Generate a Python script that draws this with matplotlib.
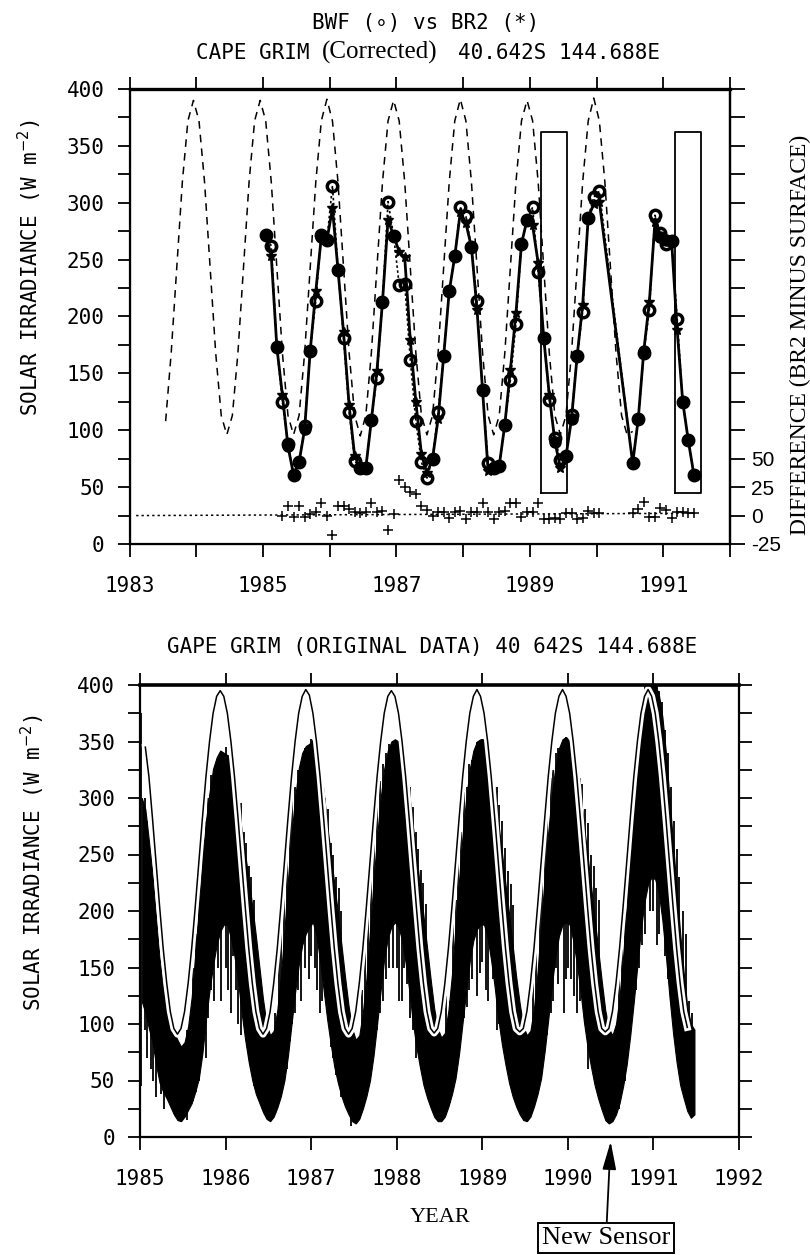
import numpy as np
import matplotlib
matplotlib.use("Agg")
import matplotlib.pyplot as plt
import matplotlib.patheffects as pe

MONO = ['DejaVu Sans Mono', 'DejaVu Sans']
SERIF = 'Liberation Serif'
SANS = 'Liberation Sans'
nan = np.nan

# ---------------- top panel: monthly means Jan 1985 .. Jun 1991 ----------------
bwf = [272, 262, 173, 125, 88, 61, 72, 104, 170, 214, 272, 267,
       315, 241, 181, 116, 73, 67, 67, 109, 146, 213, 301, 271,
       228, 229, 162, 108, 72, 58, 75, 116, 165, 222, 253, 296,
       288, 261, 214, 135, 71, 67, 69, 105, 144, 193, 264, 285,
       296, 239, 181, 127, 93, 74, 77, 113, 165, 204, 287, 305,
       310, nan, nan, nan, nan, nan, 71, 110, 168, 206, 289, 273,
       264, 266, 198, 125, 91, 61]
br2 = [272, 253, 173, 131, 86, 61, 72, 101, 170, 222, 270, 267,
       295, 241, 186, 122, 77, 67, 67, 109, 152, 213, 285, 271,
       257, 252, 179, 125, 79, 62, 75, 110, 165, 222, 253, 292,
       282, 261, 206, 135, 64, 67, 69, 105, 153, 203, 264, 285,
       280, 247, 181, 131, 90, 67, 77, 110, 165, 210, 287, 299,
       301, nan, nan, nan, nan, nan, 71, 110, 170, 213, 283, 270,
       267, 266, 188, 125, 91, 61]
# BR2 minus surface (right axis)
diff = [nan, nan, nan, 0, 8, -1, 8, -1, 1, 3, 11, 0,
        -17, 8, 8, 6, 3, 2, 3, 11, 3, 4, -13, 1,
        31, 25, 21, 19, 8, 5, 0, 3, 3, -2, 3, 4,
        -3, 3, 3, 11, 3, -3, 3, 4, 11, 11, -1, 3,
        3, 11, -3, -3, -2, -3, 2, 2, -3, -2, 4, 2,
        2, nan, nan, nan, nan, nan, 2, 6, 12, -1, -1, 7,
        5, -2, 3, 3, 2, 2]
fit_x = [1983.1, 1991.5]
fit_y = [0, 2]

# clear-sky (dashed), monthly from Jul 1983 to Jul 1991
clear_top = [108, 168, 243, 318, 372, 390,
             372, 318, 243, 168, 113, 96, 113, 168, 243, 318, 372, 390,
             372, 318, 243, 168, 113, 96, 113, 168, 243, 318, 372, 391,
             372, 318, 243, 168, 113, 95, 113, 168, 243, 318, 372, 390,
             372, 318, 243, 168, 113, 96, 113, 168, 243, 318, 372, 391,
             372, 318, 243, 168, 113, 96, 113, 168, 243, 318, 372, 390,
             372, 318, 243, 168, 113, 96, 113, 168, 243, 318, 372, 392,
             372, 318, 243, 168, 113, 96, 99]

boxes_x = [(1989.16, 1989.55), (1991.17, 1991.56)]
box_y = (45, 362)

# ---------------- bottom panel: daily data envelopes (half-month steps) ----------------
daily_hi = [300, 290, 262, 232, 195, 158, 132, 112, 102, 94, 86, 80, 84, 98, 124, 162, 205, 248, 280, 305, 326, 336, 342, 340,
            338, 332, 316, 296, 272, 250, 228, 204, 178, 150, 122, 100, 90, 94, 112, 142, 182, 228, 268, 300, 326, 340, 346, 348,
            352, 345, 330, 306, 276, 250, 224, 198, 170, 142, 116, 96, 86, 90, 110, 140, 182, 226, 266, 300, 326, 342, 350, 352,
            350, 344, 328, 304, 276, 250, 222, 196, 168, 140, 114, 96, 88, 92, 112, 144, 186, 228, 268, 300, 326, 342, 350, 352,
            352, 346, 330, 306, 278, 252, 224, 198, 170, 142, 118, 98, 90, 94, 114, 146, 188, 230, 270, 302, 328, 344, 352, 354,
            350, 344, 328, 304, 276, 250, 222, 194, 166, 138, 112, 96, 90, 100, 124, 160, 205, 250, 292, 330, 360, 385, 398, 402,
            400, 392, 372, 340, 300, 260, 220, 180, 145, 115, 100, 95]
daily_lo = [120, 110, 96, 84, 64, 48, 40, 34, 27, 20, 15, 14, 18, 24, 30, 40, 52, 74, 104, 130, 152, 170, 182, 188,
            188, 176, 160, 138, 110, 86, 66, 50, 38, 30, 22, 16, 14, 18, 26, 36, 50, 72, 100, 128, 152, 170, 180, 186,
            190, 178, 156, 130, 104, 82, 62, 48, 36, 27, 20, 14, 12, 16, 25, 36, 50, 72, 100, 130, 158, 176, 186, 190,
            186, 174, 154, 130, 102, 80, 62, 46, 35, 26, 18, 14, 14, 18, 27, 38, 52, 74, 102, 130, 156, 174, 184, 188,
            188, 176, 156, 132, 104, 82, 64, 48, 36, 27, 20, 15, 14, 18, 27, 38, 52, 76, 104, 134, 160, 178, 188, 190,
            188, 174, 154, 130, 102, 80, 62, 46, 34, 24, 15, 12, 14, 20, 30, 45, 64, 90, 120, 152, 184, 208, 224, 230,
            228, 216, 192, 160, 124, 92, 66, 46, 34, 23, 17, 20]
spike_t = [1985.01, 1985.06, 1985.13, 1985.19, 1985.24, 1985.62, 1985.69, 1985.74, 1985.80, 1985.86, 1985.91,
           1985.08, 1985.15, 1985.28, 1985.55, 1985.66, 1985.77, 1985.83, 1985.95,
           1986.03, 1986.09, 1986.15, 1986.21, 1986.27, 1986.33, 1986.62, 1986.68, 1986.75, 1986.81, 1986.88, 1986.93,
           1986.00, 1986.06, 1986.12, 1986.18, 1986.24, 1986.30, 1986.58, 1986.65, 1986.72, 1986.78, 1986.85, 1986.97,
           1987.04, 1987.10, 1987.16, 1987.23, 1987.29, 1987.35, 1987.47, 1987.63, 1987.70, 1987.77, 1987.84, 1987.91,
           1987.00, 1987.07, 1987.13, 1987.20, 1987.26, 1987.32, 1987.60, 1987.67, 1987.74, 1987.81, 1987.88, 1987.96,
           1988.03, 1988.09, 1988.15, 1988.22, 1988.28, 1988.34, 1988.62, 1988.69, 1988.75, 1988.82, 1988.88, 1988.94,
           1988.00, 1988.06, 1988.12, 1988.19, 1988.25, 1988.31, 1988.58, 1988.66, 1988.72, 1988.79, 1988.85, 1988.97,
           1989.04, 1989.10, 1989.17, 1989.23, 1989.30, 1989.36, 1989.63, 1989.70, 1989.76, 1989.83, 1989.89, 1989.95,
           1989.00, 1989.07, 1989.13, 1989.20, 1989.27, 1989.33, 1989.59, 1989.67, 1989.73, 1989.80, 1989.86, 1989.98,
           1990.04, 1990.11, 1990.17, 1990.24, 1990.30, 1990.36, 1990.47, 1990.63, 1990.70, 1990.76, 1990.83, 1990.90,
           1990.00, 1990.07, 1990.14, 1990.20, 1990.27, 1990.33, 1990.60, 1990.67, 1990.73, 1990.80, 1990.87, 1990.96,
           1991.04, 1991.10, 1991.17, 1991.24, 1991.30, 1991.38, 1991.45,
           1991.00, 1991.07, 1991.14, 1991.20, 1991.27, 1991.34, 1991.42]
spike_lo = [45, 95, 60, 35, 38, 32, 50, 90, 105, 120, 150,
            70, 50, 25, 15, 40, 70, 130, 120,
            130, 160, 100, 140, 70, 45, 30, 50, 85, 110, 120, 150,
            150, 110, 130, 90, 100, 60, 20, 35, 60, 100, 130, 140,
            150, 110, 150, 80, 55, 35, 10, 45, 65, 95, 120, 150,
            160, 130, 120, 110, 70, 50, 30, 50, 80, 110, 140, 150,
            120, 150, 105, 70, 60, 40, 30, 55, 100, 115, 140, 125,
            150, 120, 135, 95, 85, 55, 25, 45, 75, 105, 130, 145,
            130, 170, 95, 120, 60, 45, 35, 60, 90, 120, 135, 110,
            155, 120, 140, 100, 75, 50, 28, 50, 80, 110, 150, 140,
            140, 110, 150, 60, 70, 40, 12, 50, 90, 130, 150, 180,
            150, 125, 120, 100, 80, 55, 25, 50, 90, 130, 170, 200,
            170, 220, 140, 110, 60, 30, 20,
            200, 180, 160, 120, 80, 45, 25]
spike_hi = [375, 300, 240, 170, 130, 150, 220, 260, 300, 325, 336,
            280, 200, 115, 95, 180, 280, 320, 340,
            338, 330, 300, 270, 240, 210, 160, 240, 290, 310, 332, 344,
            345, 332, 316, 296, 260, 230, 110, 190, 260, 300, 325, 346,
            350, 336, 300, 260, 230, 200, 90, 175, 250, 300, 330, 348,
            352, 340, 320, 290, 250, 220, 130, 210, 270, 315, 340, 350,
            350, 340, 310, 270, 236, 206, 120, 210, 270, 310, 334, 350,
            350, 342, 322, 292, 255, 225, 125, 200, 262, 305, 330, 350,
            352, 342, 310, 280, 235, 205, 170, 230, 290, 325, 344, 352,
            352, 344, 322, 294, 256, 224, 140, 215, 275, 318, 340, 354,
            350, 336, 312, 278, 240, 210, 100, 180, 260, 320, 370, 400,
            350, 340, 318, 290, 250, 220, 140, 220, 290, 345, 385, 402,
            400, 385, 340, 280, 230, 180, 110,
            400, 395, 360, 310, 255, 200, 120]
# clear-sky (solid), half-month steps from mid Jan 1985 to Jul 1991
clear_bot = [345, 319, 282, 243, 204, 167, 136, 111, 96, 91, 96, 111, 136, 167, 204, 243, 282, 319, 350, 375, 390, 395,
             390, 375, 350, 319, 282, 243, 204, 167, 136, 111, 96, 91, 96, 111, 136, 167, 204, 243, 282, 319, 350, 375, 390, 396,
             391, 375, 350, 319, 282, 243, 204, 167, 136, 111, 96, 91, 96, 111, 136, 167, 204, 243, 282, 319, 350, 375, 390, 395,
             390, 375, 350, 319, 282, 243, 204, 167, 136, 111, 96, 92, 96, 111, 136, 167, 204, 243, 282, 319, 350, 375, 390, 396,
             390, 375, 350, 319, 282, 243, 204, 167, 136, 111, 96, 93, 96, 111, 136, 167, 204, 243, 282, 319, 350, 375, 390, 396,
             390, 375, 350, 319, 282, 243, 204, 167, 136, 111, 96, 93, 96, 111, 136, 167, 204, 243, 282, 319, 350, 375, 390, 396,
             390, 375, 350, 319, 282, 243, 204, 167, 136, 111, 97]

W, H = 810, 1255
def fx(x): return x / W
def fy(y): return 1 - y / H

fig = plt.figure(figsize=(W / 100, H / 100), dpi=100)
tick_kw = dict(direction='out', length=9, width=1.3, labelsize=15)

# ============== top panel ==============
ax = fig.add_axes([fx(129.5), fy(544), fx(730) - fx(129.5), fy(89) - fy(544)])
t_mon = 1985 + (np.arange(len(br2)) + 0.5) / 12
bwf_a, br2_a, diff_a = np.array(bwf, float), np.array(br2, float), np.array(diff, float)
ok = ~np.isnan(br2_a)
same = ok & (np.abs(np.nan_to_num(bwf_a - br2_a)) < 4)   # o and * on top of each other
t_top = 1983.5 + (np.arange(len(clear_top)) + 0.5) / 12
ax.plot(t_top, clear_top, color='k', lw=1.1, ls=(0, (5, 4)))
ax.plot(t_mon[ok], bwf_a[ok], color='k', lw=1.2, ls=(0, (1.5, 1.5)))
ax.plot(t_mon[ok], br2_a[ok], color='k', lw=2.0)
ax.plot(t_mon[ok], bwf_a[ok], 'o', ms=7.5, mfc='none', mec='k', mew=2.5)
ax.plot(t_mon[ok], br2_a[ok], '*', ms=7.5, color='k')
ax.plot(t_mon[same], br2_a[same], 'o', ms=8, color='k')
for x0, x1 in boxes_x:
    ax.plot([x0, x0, x1, x1, x0], [box_y[0], box_y[1], box_y[1], box_y[0], box_y[0]], color='k', lw=1.3)
ax.set_xlim(1983, 1992)
ax.set_ylim(0, 400)
ax.set_xticks(range(1983, 1993))
ax.set_xticklabels([str(y) if y % 2 == 1 and y < 1992 else '' for y in range(1983, 1993)], family=MONO)
ax.set_yticks(range(0, 401, 25))
ax.set_yticklabels([str(v) if v % 50 == 0 else '' for v in range(0, 401, 25)], family=MONO)
ax.tick_params(axis='y', left=True, right=False, pad=9, **tick_kw)
ax.tick_params(axis='x', top=True, bottom=True, pad=14, **tick_kw)
for s in ax.spines.values():
    s.set_linewidth(1.6)
ax.spines['top'].set_linewidth(2.4)

ax2 = ax.twinx()
ax2.set_ylim(-25, 375)
ax2.plot(t_mon, diff_a, '+', color='k', ms=7, mew=1.1)
ax2.plot(fit_x, fit_y, color='k', lw=1.1, ls=(0, (1.5, 2)))
ax2.set_yticks(range(-25, 376, 25))
ax2.set_yticklabels([str(v) if v <= 50 else '' for v in range(-25, 376, 25)], family=SANS, fontsize=15)
ax2.tick_params(axis='y', direction='out', length=11, width=1.3, pad=4)
ax2.spines['right'].set_linewidth(1.6)

fig.text(fx(426), fy(23), 'BWF (\u2218) vs BR2 (*)', family=MONO, fontsize=15, ha='center', va='center')
fig.text(fx(196), fy(53), 'CAPE GRIM', family=MONO, fontsize=15, ha='left', va='center')
fig.text(fx(322), fy(52), '(Corrected)', family=SERIF, fontsize=18, ha='left', va='center')
fig.text(fx(458), fy(53), '40.642S 144.688E', family=MONO, fontsize=15, ha='left', va='center')
fig.text(fx(30), fy(268), 'SOLAR IRRADIANCE (W m$^{-2}$)', family=MONO, fontsize=15,
         rotation=90, ha='center', va='center')
fig.text(fx(800), fy(335), 'DIFFERENCE (BR2 MINUS SURFACE)', family=SERIF, fontsize=17,
         rotation=90, ha='center', va='center')

# ============== bottom panel ==============
bx = fig.add_axes([fx(140), fy(1137), fx(739) - fx(140), fy(685) - fy(1137)])
t_day = 1985 + (np.arange(len(daily_hi)) + 0.5) / 24
bx.fill_between(t_day, daily_lo, daily_hi, color='k', lw=0.8)
bx.vlines(spike_t, spike_lo, spike_hi, color='k', lw=1.3)
t_clr = 1985 + (np.arange(len(clear_bot)) + 1.5) / 24
bx.plot(t_clr, clear_bot, color='k', lw=1.1,
        path_effects=[pe.withStroke(linewidth=5, foreground='white')])
bx.set_xlim(1985, 1992)
bx.set_ylim(0, 400)
bx.set_xticks(range(1985, 1993))
bx.set_xticklabels([str(y) for y in range(1985, 1993)], family=MONO)
bx.set_yticks(range(0, 401, 25))
bx.set_yticklabels([str(v) if v % 50 == 0 else '' for v in range(0, 401, 25)], family=MONO)
bx.tick_params(axis='y', left=True, right=True, pad=9, **tick_kw)
bx.tick_params(axis='x', top=True, bottom=True, pad=14, **tick_kw)
for s in bx.spines.values():
    s.set_linewidth(1.6)
bx.spines['top'].set_linewidth(2.6)

fig.text(fx(432), fy(647), 'GAPE GRIM (ORIGINAL DATA) 40 642S 144.688E', family=MONO, fontsize=15,
         ha='center', va='center')
fig.text(fx(33), fy(863), 'SOLAR IRRADIANCE (W m$^{-2}$)', family=MONO, fontsize=15,
         rotation=90, ha='center', va='center')
fig.text(fx(440), fy(1217), 'YEAR', family=SERIF, fontsize=16, ha='center', va='center')
bx.annotate('New Sensor', xy=(1990.5, -4), xycoords='data',
            xytext=(fx(606), fy(1238)), textcoords='figure fraction',
            family=SERIF, fontsize=19, ha='center', va='center', annotation_clip=False,
            bbox=dict(boxstyle='square,pad=0.15', fc='white', ec='k', lw=1.4),
            arrowprops=dict(arrowstyle='-|>,head_length=0.9,head_width=0.22', color='k', lw=1.3,
                            shrinkA=0, shrinkB=0))

fig.savefig('out.png', dpi=100)
